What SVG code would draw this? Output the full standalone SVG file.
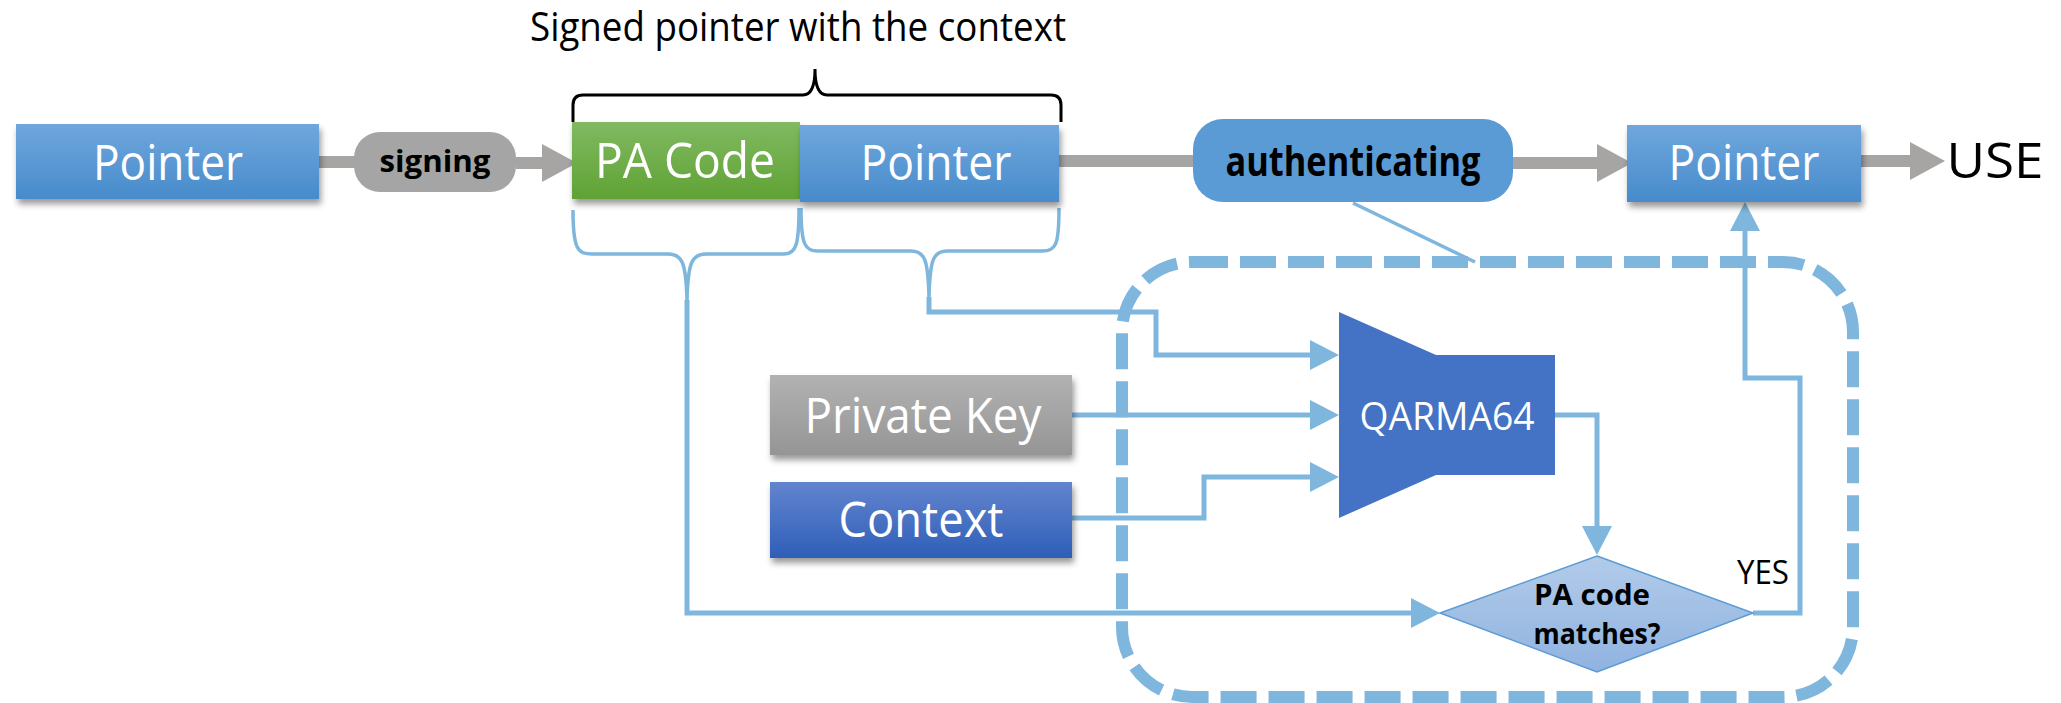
<svg xmlns="http://www.w3.org/2000/svg" width="2061" height="703" viewBox="0 0 2061 703">
<defs>
<linearGradient id="gBlue" x1="0" y1="0" x2="0" y2="1"><stop offset="0" stop-color="#6FA7DD"/><stop offset="1" stop-color="#478BCB"/></linearGradient>
<linearGradient id="gGreen" x1="0" y1="0" x2="0" y2="1"><stop offset="0" stop-color="#80BA62"/><stop offset="1" stop-color="#60A234"/></linearGradient>
<linearGradient id="gGray" x1="0" y1="0" x2="0" y2="1"><stop offset="0" stop-color="#B2B2B2"/><stop offset="1" stop-color="#959595"/></linearGradient>
<linearGradient id="gCtx" x1="0" y1="0" x2="0" y2="1"><stop offset="0" stop-color="#6384CE"/><stop offset="1" stop-color="#2E5FB8"/></linearGradient>
<linearGradient id="gDia" x1="0" y1="0" x2="0" y2="1"><stop offset="0" stop-color="#B2CBE9"/><stop offset="1" stop-color="#90B3E0"/></linearGradient>
<filter id="sh" x="-10%" y="-20%" width="125%" height="150%"><feDropShadow dx="2" dy="5" stdDeviation="3" flood-color="#000" flood-opacity="0.4"/></filter>
<marker id="aBlue" markerUnits="userSpaceOnUse" markerWidth="30" markerHeight="30" viewBox="0 0 30 30" refX="9" refY="15" orient="auto"><path d="M0,0 L29,15 L0,30 z" fill="#7EB6DD"/></marker>
<marker id="aGray" markerUnits="userSpaceOnUse" markerWidth="36" markerHeight="38" viewBox="0 0 36 38" refX="10" refY="19" orient="auto"><path d="M0,0 L35,19 L0,38 z" fill="#A7A5A4"/></marker>
<style>
.box{filter:url(#sh)}
.t{font-family:"Open Sans","Noto Sans","Liberation Sans",sans-serif;fill:#fff;text-anchor:middle}
.b{font-family:"Open Sans","Noto Sans","Liberation Sans",sans-serif;font-weight:bold;fill:#000;text-anchor:middle}
.k{font-family:"Open Sans","Noto Sans","Liberation Sans",sans-serif;fill:#000;text-anchor:middle}
.c{fill:none;stroke:#7EB6DD;stroke-width:5}
.g{fill:none;stroke:#A7A5A4;stroke-width:12}
.br{fill:none;stroke:#7EB6DD;stroke-width:3.5}
</style>
</defs>
<rect width="2061" height="703" fill="#fff"/>

<text class="k" x="798" y="41" font-size="40" textLength="536" lengthAdjust="spacingAndGlyphs">Signed pointer with the context</text>
<path d="M573,122 L573,105 Q573,95 583,95 L803,95 Q815,95 815,69 Q815,95 827,95 L1051,95 Q1061,95 1061,105 L1061,122" fill="none" stroke="#000" stroke-width="3"/>

<g id="connectors">
<path class="g" d="M319,162 L360,162"/>
<path class="g" d="M516,163 L552,163" marker-end="url(#aGray)"/>
<path class="g" d="M1059,161 L1200,161"/>
<path class="g" d="M1513,163 L1607,163" marker-end="url(#aGray)"/>
<path class="g" d="M1861,161 L1920,161" marker-end="url(#aGray)"/>
<path d="M1353,203 L1475,262" fill="none" stroke="#7EB6DD" stroke-width="3.5"/>
<path class="br" d="M573,210 C573,250 578,254 592,254 L668,254 C682,254 686,262 687,300 C688,262 692,254 706,254 L784,254 C796,254 799,245 799,208"/>
<path class="br" d="M801,208 C801,245 805,251 818,251 L911,251 C925,251 928,260 929,297 C930,260 933,251 947,251 L1042,251 C1056,251 1059,245 1059,208"/>
<path class="c" d="M687,300 L687,613 L1420,613" marker-end="url(#aBlue)"/>
<path class="c" d="M929,297 L929,312 L1156,312 L1156,355 L1319,355" marker-end="url(#aBlue)"/>
<path class="c" d="M1072,415 L1319,415" marker-end="url(#aBlue)"/>
<path class="c" d="M1072,518 L1204,518 L1204,477 L1319,477" marker-end="url(#aBlue)"/>
<path class="c" d="M1555,415 L1597,415 L1597,535" marker-end="url(#aBlue)"/>
<path class="c" d="M1753,613 L1800,613 L1800,378 L1745,378 L1745,222" marker-end="url(#aBlue)"/>
<rect x="1122" y="262" width="731" height="435" rx="70" fill="none" stroke="#7EB6DD" stroke-width="12" stroke-dasharray="36 12"/>
</g>

<g id="pointer1"><rect class="box" x="16" y="124" width="303" height="75" fill="url(#gBlue)"/><text class="t" x="168" y="180" font-size="50" textLength="150" lengthAdjust="spacingAndGlyphs">Pointer</text></g>
<g id="signing"><rect x="354" y="132" width="162" height="60" rx="26" fill="#A5A5A5"/><text class="b" x="435" y="172" font-size="31" textLength="111" lengthAdjust="spacingAndGlyphs">signing</text></g>
<g id="pacode"><rect class="box" x="572" y="122" width="228" height="77" fill="url(#gGreen)"/><text class="t" x="685" y="178" font-size="50" textLength="180" lengthAdjust="spacingAndGlyphs">PA Code</text></g>
<g id="pointer2"><rect class="box" x="800" y="125" width="259" height="77" fill="url(#gBlue)"/><text class="t" x="936" y="180" font-size="50" textLength="151" lengthAdjust="spacingAndGlyphs">Pointer</text></g>
<g id="authenticating"><rect x="1193" y="119" width="320" height="83" rx="30" fill="#5B9BD5"/><text class="b" x="1353" y="176" font-size="42" textLength="255" lengthAdjust="spacingAndGlyphs">authenticating</text></g>
<g id="pointer3"><rect class="box" x="1627" y="125" width="234" height="77" fill="url(#gBlue)"/><text class="t" x="1744" y="180" font-size="50" textLength="151" lengthAdjust="spacingAndGlyphs">Pointer</text></g>
<g id="use"><text class="k" x="1995" y="178" font-size="50" textLength="97" lengthAdjust="spacingAndGlyphs">USE</text></g>
<g id="privatekey"><rect class="box" x="770" y="375" width="302" height="80" fill="url(#gGray)"/><text class="t" x="923" y="433" font-size="50" textLength="237" lengthAdjust="spacingAndGlyphs">Private Key</text></g>
<g id="context"><rect class="box" x="770" y="482" width="302" height="76" fill="url(#gCtx)"/><text class="t" x="921" y="537" font-size="50" textLength="165" lengthAdjust="spacingAndGlyphs">Context</text></g>
<g id="qarma"><polygon points="1339,312 1436,355 1555,355 1555,475 1436,475 1339,518" fill="#4472C4"/><text class="t" x="1447" y="430" font-size="39" textLength="175" lengthAdjust="spacingAndGlyphs">QARMA64</text></g>
<g id="match"><polygon points="1597,556 1753,613 1597,672 1440,613" fill="url(#gDia)" stroke="#5B9BD5" stroke-width="1.5"/><text class="b" x="1592" y="605" font-size="28" textLength="116" lengthAdjust="spacingAndGlyphs">PA code</text><text class="b" x="1597" y="644" font-size="28" textLength="127" lengthAdjust="spacingAndGlyphs">matches?</text></g>
<g id="yes"><text class="k" x="1763" y="584" font-size="32" textLength="52" lengthAdjust="spacingAndGlyphs">YES</text></g>
</svg>
